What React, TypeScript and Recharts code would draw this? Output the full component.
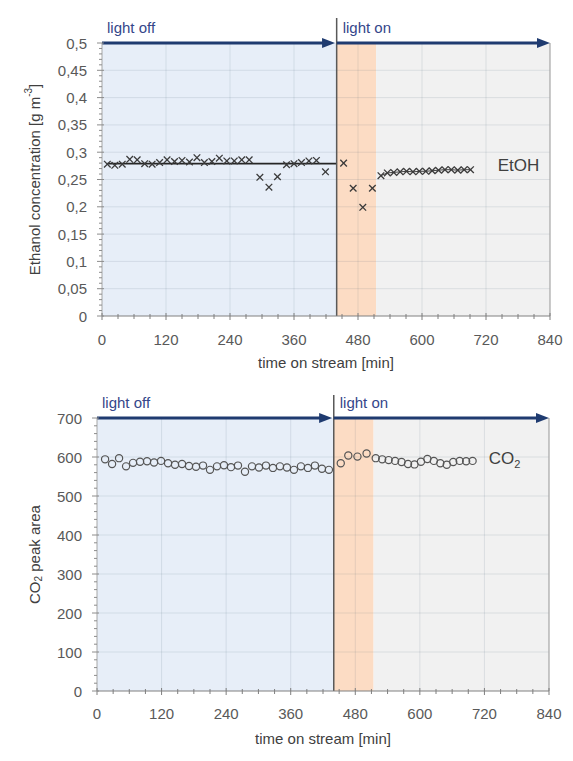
import React from "react";
import {
  ComposedChart,
  Line,
  ReferenceArea,
  ReferenceDot,
  ReferenceLine,
  Scatter,
  XAxis,
  YAxis,
} from "recharts";

const FONT = '"Liberation Sans", Arial, sans-serif';
const NAVY = "#1f3b70";
const TEXT = "#595959";

// time on stream [min]
const xTicks = [0, 30, 60, 90, 120, 150, 180, 210, 240, 270, 300, 330, 360, 390, 420, 450, 480, 510, 540, 570, 600, 630, 660, 690, 720, 750, 780, 810, 840];
const xMajor = [0, 120, 240, 360, 480, 600, 720, 840];

const etohMajor = [0, 0.05, 0.1, 0.15, 0.2, 0.25, 0.3, 0.35, 0.4, 0.45, 0.5];
const etohTicks = Array.from({ length: 51 }, (_, i) => i / 100);
const co2Major = [0, 100, 200, 300, 400, 500, 600, 700];
const co2Ticks = Array.from({ length: 36 }, (_, i) => i * 20);

const lightOn = 440;
const bandEnd = 514;

// EtOH, light off
const etohOffT = [10, 24, 38, 52, 66, 80, 94, 108, 122, 136, 150, 164, 178, 192, 206, 220, 234, 248, 262, 276, 296, 313, 329, 346, 360, 374, 388, 402, 419];
const etohOffV = [0.278, 0.276, 0.278, 0.287, 0.286, 0.279, 0.278, 0.281, 0.286, 0.283, 0.285, 0.282, 0.29, 0.281, 0.283, 0.289, 0.284, 0.284, 0.286, 0.286, 0.254, 0.236, 0.255, 0.277, 0.279, 0.281, 0.284, 0.285, 0.264];
// EtOH, light on
const etohOnT = [453, 471, 489, 507, 523, 535, 547, 559, 571, 583, 595, 607, 619, 631, 643, 655, 667, 679, 691];
const etohOnV = [0.28, 0.234, 0.199, 0.234, 0.257, 0.262, 0.263, 0.264, 0.265, 0.264, 0.265, 0.265, 0.266, 0.267, 0.268, 0.268, 0.267, 0.268, 0.268];
const etohMean = 0.279;

// CO2 peak area
const co2OffT = [15, 28, 41, 54, 67, 80, 93, 106, 119, 132, 145, 158, 171, 184, 197, 210, 223, 236, 249, 262, 275, 288, 301, 314, 327, 340, 353, 366, 379, 392, 405, 418, 431];
const co2OffV = [594, 582, 597, 576, 585, 588, 589, 586, 590, 584, 580, 582, 577, 575, 578, 567, 576, 579, 574, 578, 562, 576, 573, 578, 572, 576, 573, 567, 576, 572, 578, 570, 567];
const co2OnT = [453, 467, 484, 501, 518, 530, 542, 554, 566, 578, 590, 602, 614, 626, 638, 650, 662, 674, 686, 698];
const co2OnV = [584, 604, 601, 609, 597, 594, 592, 590, 587, 582, 581, 588, 595, 590, 584, 580, 587, 590, 589, 590];

const zip = (t: number[], v: number[]) => t.map((x, i) => ({ t: x, v: v[i] }));
const etohData = zip([...etohOffT, ...etohOnT], [...etohOffV, ...etohOnV]);
const etohStable = zip(etohOnT.slice(4), etohOnV.slice(4));
const etohMeanLine = [{ t: 10, v: etohMean }, { t: lightOn, v: etohMean }];
const co2Data = zip([...co2OffT, ...co2OnT], [...co2OffV, ...co2OnV]);

const fmtComma = (v: number) => String(Number(v.toFixed(2))).replace(".", ",");

function XTick(props: any) {
  const { x, y, payload, labelDy } = props;
  const v = payload.value;
  const major = xMajor.includes(v);
  return (
    <g>
      <line x1={x} x2={x} y1={y - (major ? 3 : 2)} y2={y + (major ? 4 : 3)} stroke="#7f7f7f" />
      {major && (
        <text x={x} y={y + labelDy} textAnchor="middle" dominantBaseline="central" fontSize={15} fill={TEXT} fontFamily={FONT}>
          {v}
        </text>
      )}
    </g>
  );
}

function YTick(props: any) {
  const { x, y, payload, majors, comma } = props;
  const v = payload.value;
  const major = majors.some((m: number) => Math.abs(m - v) < 1e-6);
  return (
    <g>
      <line x1={x - (major ? 5 : 3)} x2={x + (major ? 2 : 0)} y1={y} y2={y} stroke="#8c8c8c" />
      {major && (
        <text x={x - 15} y={y} textAnchor="end" dominantBaseline="central" fontSize={15} fill={TEXT} fontFamily={FONT}>
          {comma ? fmtComma(v) : v}
        </text>
      )}
    </g>
  );
}

function YTitle(props: any) {
  const { viewBox, kind } = props;
  const cx = viewBox.x + 34;
  const cy = viewBox.y + viewBox.height / 2;
  return (
    <text
      x={cx}
      y={cy}
      transform={`rotate(-90 ${cx} ${cy})`}
      textAnchor="middle"
      dominantBaseline="central"
      fontSize={15}
      fill="#404040"
      fontFamily={FONT}
    >
      {kind === "etoh" ? (
        <>
          Ethanol concentration [g m
          <tspan fontSize={10} dy={-6}>-3</tspan>
          <tspan dy={6}>]</tspan>
        </>
      ) : (
        <>
          CO
          <tspan fontSize={10} dy={4}>2</tspan>
          <tspan dy={-4}> peak area</tspan>
        </>
      )}
    </text>
  );
}

function XTitle(props: any) {
  const { viewBox, dy } = props;
  return (
    <text
      x={viewBox.x + viewBox.width / 2}
      y={viewBox.y + dy}
      textAnchor="middle"
      dominantBaseline="central"
      fontSize={15}
      fill="#404040"
      fontFamily={FONT}
    >
      time on stream [min]
    </text>
  );
}

const arrowShape = (p: any) => {
  const { x1, y1, x2 } = p;
  return (
    <g>
      <line x1={x1} y1={y1} x2={x2 - 8} y2={y1} stroke={NAVY} strokeWidth={3} />
      <polygon points={`${x2},${y1} ${x2 - 13},${y1 - 5} ${x2 - 13},${y1 + 5}`} fill={NAVY} />
    </g>
  );
};

const dividerShape = (rise: number) => (p: any) => {
  const { x1, y1, y2 } = p;
  const top = Math.min(y1, y2);
  const bottom = Math.max(y1, y2);
  return (
    <g>
      <line x1={x1} x2={x1} y1={bottom} y2={top - rise} stroke="#595959" strokeWidth={1.5} />
      <text x={x1 + 6} y={top - 16} dominantBaseline="central" fontSize={15} fill="#34468a" fontFamily={FONT}>
        light on
      </text>
    </g>
  );
};

const offLabelShape = (p: any) => {
  const { x1, y1, y2 } = p;
  const top = Math.min(y1, y2);
  return (
    <text x={x1 + 5} y={top - 16} dominantBaseline="central" fontSize={15} fill="#34468a" fontFamily={FONT}>
      light off
    </text>
  );
};

const crossShape = (p: any) => {
  const { cx, cy } = p;
  const s = 3.3;
  return (
    <g stroke="#3a3a3a" strokeWidth={1.3}>
      <line x1={cx - s} y1={cy - s} x2={cx + s} y2={cy + s} />
      <line x1={cx - s} y1={cy + s} x2={cx + s} y2={cy - s} />
    </g>
  );
};

const circleShape = (p: any) => (
  <circle cx={p.cx} cy={p.cy} r={3.6} fill="none" stroke="#555" strokeWidth={1.2} />
);

function Backdrop({ yTop }: { yTop: number }) {
  return null;
}

export default function App() {
  const gridStroke = "rgba(60,80,110,0.12)";
  return (
    <div style={{ position: "absolute", left: 0, top: 0, width: 573, height: 761, background: "#fff" }}>
      <div style={{ position: "absolute", left: 0, top: 0 }}>
        <ComposedChart width={573} height={376} margin={{ top: 43, right: 23, bottom: 0, left: 0 }}>
          <ReferenceArea x1={0} x2={lightOn} fill="#e7eef8" fillOpacity={1} />
          <ReferenceArea x1={lightOn} x2={bandEnd} fill="#fcdcc4" fillOpacity={1} />
          <ReferenceArea x1={bandEnd} x2={840} fill="#f1f1f1" fillOpacity={1} />
          {etohMajor.slice(1, -1).map((v) => (
            <ReferenceLine key={"h" + v} y={v} stroke={gridStroke} />
          ))}
          {xMajor.slice(1, -1).map((v) => (
            <ReferenceLine key={"v" + v} x={v} stroke={gridStroke} />
          ))}
          <ReferenceLine x={840} stroke="#a6a6a6" strokeWidth={1.2} />
          <XAxis
            dataKey="t"
            type="number"
            domain={[0, 840]}
            ticks={xTicks}
            interval={0}
            height={60}
            tickSize={0}
            tickMargin={0}
            tickLine={false}
            axisLine={{ stroke: "#808080" }}
            tick={<XTick labelDy={23} />}
            label={<XTitle dy={46} />}
          />
          <YAxis
            dataKey="v"
            type="number"
            domain={[0, 0.5]}
            ticks={etohTicks}
            interval={0}
            width={102}
            tickSize={0}
            tickMargin={0}
            tickLine={false}
            axisLine={{ stroke: "#a6a6a6" }}
            tick={<YTick majors={etohMajor} comma />}
            label={<YTitle kind="etoh" />}
          />
          <Line data={etohMeanLine} dataKey="v" stroke="#262626" strokeWidth={1.6} dot={false} isAnimationActive={false} />
          <Line data={etohStable} dataKey="v" stroke="#404040" strokeWidth={1} dot={false} isAnimationActive={false} />
          <Scatter data={etohData} dataKey="v" shape={crossShape} isAnimationActive={false} />
          <ReferenceLine x={0} stroke="none" shape={offLabelShape} />
          <ReferenceLine x={lightOn} shape={dividerShape(25)} />
          <ReferenceLine segment={[{ x: 0, y: 0.5 }, { x: 437, y: 0.5 }]} shape={arrowShape} />
          <ReferenceLine segment={[{ x: lightOn, y: 0.5 }, { x: 840, y: 0.5 }]} shape={arrowShape} />
          <ReferenceDot
            x={742}
            y={0.276}
            r={0}
            shape={(p: any) => (
              <text x={p.cx} y={p.cy} dominantBaseline="central" fontSize={17} fill="#404040" fontFamily={FONT}>
                EtOH
              </text>
            )}
          />
        </ComposedChart>
      </div>
      <div style={{ position: "absolute", left: 0, top: 376 }}>
        <ComposedChart width={573} height={385} margin={{ top: 42, right: 24, bottom: 0, left: 0 }}>
          <ReferenceArea x1={0} x2={lightOn} fill="#e7eef8" fillOpacity={1} />
          <ReferenceArea x1={lightOn} x2={bandEnd} fill="#fcdcc4" fillOpacity={1} />
          <ReferenceArea x1={bandEnd} x2={840} fill="#f1f1f1" fillOpacity={1} />
          {co2Major.slice(1, -1).map((v) => (
            <ReferenceLine key={"h" + v} y={v} stroke={gridStroke} />
          ))}
          {xMajor.slice(1, -1).map((v) => (
            <ReferenceLine key={"v" + v} x={v} stroke={gridStroke} />
          ))}
          <ReferenceLine x={840} stroke="#a6a6a6" strokeWidth={1.2} />
          <XAxis
            dataKey="t"
            type="number"
            domain={[0, 840]}
            ticks={xTicks}
            interval={0}
            height={70}
            tickSize={0}
            tickMargin={0}
            tickLine={false}
            axisLine={{ stroke: "#808080" }}
            tick={<XTick labelDy={22} />}
            label={<XTitle dy={47} />}
          />
          <YAxis
            dataKey="v"
            type="number"
            domain={[0, 700]}
            ticks={co2Ticks}
            interval={0}
            width={97}
            tickSize={0}
            tickMargin={0}
            tickLine={false}
            axisLine={{ stroke: "#a6a6a6" }}
            tick={<YTick majors={co2Major} />}
            label={<YTitle kind="co2" />}
          />
          <Scatter data={co2Data} dataKey="v" shape={circleShape} isAnimationActive={false} />
          <ReferenceLine x={0} stroke="none" shape={offLabelShape} />
          <ReferenceLine x={lightOn} shape={dividerShape(23)} />
          <ReferenceLine segment={[{ x: 0, y: 700 }, { x: 437, y: 700 }]} shape={arrowShape} />
          <ReferenceLine segment={[{ x: lightOn, y: 700 }, { x: 840, y: 700 }]} shape={arrowShape} />
          <ReferenceDot
            x={728}
            y={595}
            r={0}
            shape={(p: any) => (
              <text x={p.cx} y={p.cy} dominantBaseline="central" fontSize={17} fill="#404040" fontFamily={FONT}>
                CO
                <tspan fontSize={11} dy={5}>2</tspan>
              </text>
            )}
          />
        </ComposedChart>
      </div>
    </div>
  );
}
